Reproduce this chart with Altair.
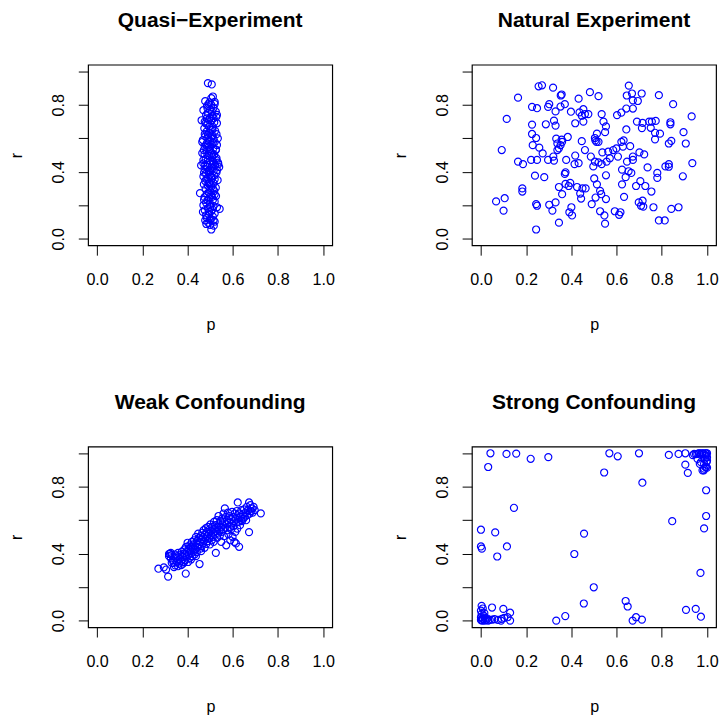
import altair as alt
import pandas as pd

# ---------------- data ----------------
quasi_points = [
    (0.490,0.930),(0.507,0.922),(0.512,0.850),(0.478,0.822),(0.497,0.815),(0.520,0.818),(0.505,0.800),
    (0.486,0.795),(0.515,0.782),(0.470,0.768),(0.500,0.770),(0.525,0.760),(0.490,0.752),(0.482,0.740),
    (0.510,0.735),(0.527,0.728),(0.498,0.722),(0.462,0.708),(0.476,0.700),(0.505,0.705),(0.518,0.695),
    (0.530,0.690),(0.488,0.682),(0.495,0.670),(0.512,0.668),(0.474,0.660),(0.502,0.652),(0.522,0.645),
    (0.484,0.640),(0.496,0.632),(0.528,0.625),(0.509,0.618),(0.478,0.612),(0.492,0.605),(0.515,0.598),
    (0.468,0.590),(0.500,0.585),(0.520,0.578),(0.486,0.572),(0.506,0.565),(0.530,0.560),(0.476,0.552),
    (0.494,0.548),(0.514,0.540),(0.526,0.533),(0.485,0.526),(0.502,0.520),(0.465,0.512),(0.475,0.505),
    (0.518,0.502),(0.496,0.495),(0.509,0.488),(0.528,0.482),(0.480,0.476),(0.490,0.470),(0.512,0.462),
    (0.535,0.455),(0.470,0.450),(0.500,0.445),(0.522,0.438),(0.486,0.430),(0.506,0.425),(0.540,0.428),
    (0.475,0.418),(0.494,0.410),(0.515,0.404),(0.528,0.396),(0.482,0.390),(0.500,0.382),(0.519,0.378),
    (0.470,0.372),(0.489,0.365),(0.508,0.360),(0.533,0.350),(0.478,0.345),(0.497,0.338),(0.515,0.332),
    (0.472,0.325),(0.490,0.318),(0.506,0.312),(0.525,0.305),(0.480,0.298),(0.498,0.290),(0.518,0.285),
    (0.455,0.272),(0.486,0.268),(0.505,0.262),(0.526,0.255),(0.475,0.248),(0.494,0.240),(0.512,0.232),
    (0.520,0.222),(0.482,0.215),(0.500,0.208),(0.470,0.200),(0.515,0.195),(0.530,0.188),(0.490,0.182),
    (0.542,0.178),(0.476,0.170),(0.505,0.165),(0.468,0.160),(0.520,0.150),(0.495,0.145),(0.512,0.132),
    (0.485,0.125),(0.503,0.118),(0.478,0.110),(0.520,0.102),(0.492,0.095),(0.483,0.088),(0.500,0.083),
    (0.516,0.078),(0.505,0.055),
    (0.488,0.780),(0.508,0.760),(0.495,0.710),(0.480,0.690),(0.510,0.650),(0.490,0.620),(0.504,0.600),
    (0.512,0.575),(0.482,0.560),(0.498,0.535),(0.508,0.510),(0.488,0.500),(0.500,0.465),(0.516,0.450),
    (0.478,0.440),(0.510,0.420),(0.494,0.400),(0.504,0.370),(0.484,0.355),(0.496,0.330),(0.512,0.300),
    (0.494,0.275),(0.508,0.250),(0.488,0.230),(0.500,0.190),(0.510,0.175),(0.495,0.160),(0.482,0.140),
    (0.525,0.530),(0.472,0.530),(0.528,0.470),(0.520,0.355),(0.530,0.410),(0.476,0.625),(0.470,0.470),
    (0.515,0.720),(0.520,0.805),(0.505,0.840),(0.494,0.805),(0.530,0.740),(0.485,0.720),(0.465,0.578),
    (0.473,0.395),(0.473,0.232),(0.520,0.265),(0.536,0.445),(0.534,0.600),(0.460,0.438),(0.498,0.112),
    (0.515,0.110),
]

natural_points = [
    (0.255,0.911),(0.270,0.917),(0.319,0.903),(0.164,0.843),(0.357,0.862),(0.353,0.856),(0.432,0.837),
    (0.482,0.876),(0.226,0.788),(0.248,0.780),(0.302,0.804),(0.297,0.788),(0.352,0.790),(0.371,0.804),
    (0.330,0.761),(0.398,0.759),(0.436,0.755),(0.453,0.774),(0.446,0.735),(0.460,0.745),(0.453,0.700),
    (0.417,0.690),(0.475,0.745),(0.114,0.716),(0.226,0.682),(0.287,0.684),(0.323,0.706),(0.330,0.676),
    (0.226,0.626),(0.244,0.602),(0.229,0.559),(0.258,0.544),(0.333,0.598),(0.357,0.592),(0.384,0.608),
    (0.338,0.569),(0.345,0.540),(0.352,0.559),(0.359,0.579),(0.338,0.530),(0.446,0.583),(0.504,0.602),
    (0.511,0.579),(0.092,0.530),(0.460,0.530),(0.273,0.510),(0.164,0.461),(0.186,0.446),(0.222,0.471),
    (0.248,0.471),(0.297,0.471),(0.320,0.491),(0.323,0.467),(0.377,0.471),(0.417,0.497),(0.414,0.446),
    (0.432,0.452),(0.486,0.491),(0.497,0.432),(0.504,0.461),(0.374,0.397),(0.371,0.387),(0.239,0.377),
    (0.280,0.368),(0.501,0.360),(0.183,0.301),(0.183,0.282),(0.345,0.309),(0.374,0.328),(0.388,0.315),
    (0.395,0.334),(0.425,0.309),(0.449,0.301),(0.463,0.301),(0.439,0.270),(0.443,0.240),(0.359,0.266),
    (0.067,0.223),(0.105,0.242),(0.100,0.168),(0.244,0.207),(0.248,0.197),(0.302,0.203),(0.330,0.217),
    (0.316,0.168),(0.400,0.188),(0.391,0.158),(0.403,0.139),(0.490,0.207),(0.507,0.246),(0.345,0.096),
    (0.244,0.055),
    (0.654,0.915),(0.645,0.856),(0.668,0.868),(0.711,0.868),(0.520,0.852),(0.672,0.827),(0.694,0.823),
    (0.787,0.858),(0.850,0.804),(0.932,0.731),(0.643,0.778),(0.672,0.778),(0.621,0.754),(0.602,0.739),
    (0.534,0.745),(0.542,0.700),(0.553,0.671),(0.549,0.637),(0.513,0.628),(0.506,0.588),(0.520,0.579),
    (0.643,0.653),(0.690,0.700),(0.715,0.692),(0.712,0.661),(0.744,0.700),(0.756,0.700),(0.773,0.704),
    (0.751,0.663),(0.838,0.696),(0.838,0.684),(0.896,0.637),(0.770,0.633),(0.792,0.628),(0.770,0.594),
    (0.842,0.585),(0.831,0.569),(0.906,0.569),(0.621,0.579),(0.631,0.588),(0.628,0.550),(0.660,0.553),
    (0.585,0.530),(0.599,0.540),(0.563,0.520),(0.537,0.516),(0.701,0.516),(0.722,0.504),(0.672,0.491),
    (0.672,0.471),(0.606,0.491),(0.570,0.481),(0.556,0.461),(0.520,0.456),(0.534,0.446),(0.646,0.461),
    (0.737,0.426),(0.816,0.432),(0.831,0.446),(0.831,0.430),(0.935,0.452),(0.624,0.413),(0.653,0.403),
    (0.665,0.393),(0.553,0.379),(0.640,0.368),(0.780,0.393),(0.780,0.364),(0.893,0.373),(0.513,0.325),
    (0.624,0.325),(0.686,0.315),(0.705,0.344),(0.727,0.315),(0.754,0.282),(0.527,0.286),(0.532,0.266),
    (0.553,0.237),(0.633,0.250),(0.698,0.217),(0.715,0.227),(0.708,0.197),(0.718,0.192),(0.763,0.188),
    (0.527,0.164),(0.592,0.164),(0.617,0.158),(0.611,0.143),(0.546,0.139),(0.549,0.090),(0.842,0.178),
    (0.874,0.188),(0.787,0.109),(0.813,0.109),
]

weak_points = [
    (0.271,0.310),(0.295,0.318),(0.314,0.263),(0.392,0.281),(0.305,0.305),(0.322,0.400),(0.318,0.385),
    (0.326,0.372),(0.330,0.392),(0.335,0.360),(0.340,0.320),(0.338,0.345),(0.345,0.395),(0.348,0.375),
    (0.352,0.352),(0.355,0.385),(0.358,0.405),(0.362,0.340),(0.365,0.368),(0.368,0.392),(0.372,0.355),
    (0.375,0.412),(0.378,0.380),(0.380,0.340),(0.383,0.400),(0.386,0.425),(0.388,0.362),(0.390,0.395),
    (0.393,0.440),(0.396,0.378),(0.398,0.410),(0.400,0.465),(0.402,0.350),(0.404,0.428),(0.406,0.395),
    (0.408,0.450),(0.410,0.375),(0.412,0.418),(0.415,0.440),(0.417,0.402),(0.419,0.470),(0.421,0.385),
    (0.423,0.432),(0.425,0.455),(0.427,0.412),(0.429,0.480),(0.431,0.395),(0.433,0.445),(0.435,0.425),
    (0.437,0.500),(0.439,0.462),(0.441,0.410),(0.443,0.478),(0.445,0.440),(0.447,0.520),(0.449,0.455),
    (0.451,0.495),(0.453,0.338),(0.455,0.470),(0.457,0.430),(0.459,0.505),(0.461,0.485),(0.463,0.445),
    (0.465,0.525),(0.467,0.462),(0.469,0.498),(0.471,0.540),(0.473,0.478),(0.475,0.435),(0.477,0.515),
    (0.479,0.490),(0.481,0.552),(0.483,0.458),(0.485,0.530),(0.487,0.505),(0.489,0.475),(0.491,0.560),
    (0.493,0.520),(0.495,0.490),(0.497,0.545),(0.499,0.455),(0.501,0.575),(0.503,0.510),(0.505,0.535),
    (0.507,0.480),(0.509,0.560),(0.511,0.500),(0.513,0.528),(0.515,0.470),(0.517,0.590),(0.519,0.548),
    (0.521,0.515),(0.523,0.570),(0.525,0.405),(0.527,0.535),(0.529,0.600),(0.531,0.495),(0.533,0.555),
    (0.535,0.520),(0.537,0.625),(0.539,0.575),(0.541,0.540),(0.543,0.508),(0.545,0.595),(0.547,0.560),
    (0.549,0.470),(0.551,0.530),(0.553,0.610),(0.555,0.575),(0.557,0.545),(0.559,0.640),(0.561,0.505),
    (0.563,0.590),(0.565,0.671),(0.567,0.555),(0.569,0.620),(0.571,0.450),(0.573,0.575),(0.575,0.600),
    (0.577,0.540),(0.579,0.645),(0.581,0.515),(0.583,0.585),(0.585,0.625),(0.587,0.560),(0.589,0.480),
    (0.591,0.605),(0.593,0.545),(0.595,0.580),(0.597,0.650),(0.599,0.500),(0.601,0.620),(0.603,0.565),
    (0.605,0.595),(0.607,0.470),(0.609,0.640),(0.611,0.530),(0.613,0.610),(0.614,0.461),(0.616,0.585),
    (0.618,0.655),(0.620,0.550),(0.622,0.706),(0.624,0.615),(0.626,0.590),(0.628,0.441),(0.630,0.640),
    (0.632,0.570),(0.634,0.620),(0.636,0.600),(0.638,0.660),(0.641,0.595),(0.644,0.635),(0.647,0.610),
    (0.650,0.665),(0.653,0.620),(0.656,0.645),(0.659,0.600),(0.662,0.680),(0.665,0.630),(0.668,0.660),
    (0.672,0.706),(0.672,0.529),(0.675,0.640),(0.678,0.690),(0.681,0.655),(0.684,0.670),(0.688,0.645),
    (0.692,0.680),(0.697,0.660),(0.724,0.641),(0.345,0.330),(0.330,0.345),(0.358,0.325),(0.372,0.332),
    (0.385,0.350),(0.415,0.365),(0.318,0.398),(0.326,0.405),(0.437,0.385),(0.460,0.415),
]

strong_points = [
    (0.042,1.000),(0.113,0.996),(0.156,0.998),(0.220,0.967),(0.298,0.977),(0.568,1.000),(0.605,0.982),
    (0.699,1.000),(0.831,0.990),(0.874,0.996),(0.904,1.000),(0.943,0.996),(0.032,0.918),(0.545,0.885),
    (0.904,0.932),(0.915,0.883),(0.714,0.824),(0.996,0.779),(0.146,0.674),(0.846,0.594),(0.996,0.625),
    (0.987,0.551),(0.000,0.543),(0.063,0.527),(0.456,0.520),(0.000,0.443),(0.004,0.430),(0.115,0.443),
    (0.072,0.383),(0.413,0.398),(0.971,0.285),(0.499,0.199),(0.455,0.102),(0.640,0.117),(0.649,0.084),
    (0.907,0.064),(0.950,0.070),(0.973,0.023),(0.373,0.027),(0.333,0.000),(0.671,0.000),(0.686,0.020),
    (0.712,0.006),
    (0.003,0.088),(0.000,0.059),(0.003,0.040),(0.000,0.020),(0.000,0.004),(0.006,0.000),(0.010,0.010),
    (0.017,0.000),(0.024,0.004),(0.032,0.000),(0.039,0.004),(0.049,0.078),(0.050,0.006),(0.089,0.000),
    (0.099,0.070),(0.103,0.016),(0.118,0.020),(0.129,0.047),(0.129,0.000),(0.092,0.010),(0.008,0.072),
    (0.012,0.030),(0.020,0.015),(0.005,0.012),(0.015,0.045),(0.028,0.012),(0.002,0.002),(0.060,0.008),
    (0.075,0.004),
    (0.937,0.989),(0.951,0.995),(0.966,0.999),(0.980,1.000),(0.995,1.000),(1.000,1.000),(0.958,0.966),
    (0.973,0.947),(0.987,0.937),(0.995,0.917),(0.980,0.898),(0.987,0.908),(1.000,0.976),(1.000,0.956),
    (0.957,0.996),(0.964,1.000),(0.971,0.992),(0.978,1.000),(0.986,0.996),(0.993,1.000),(0.996,0.986),
    (0.990,0.967),(0.968,0.937),(0.998,0.947),(0.986,0.898),(0.993,0.918),(1.000,0.914),
]

panel_titles = ["Quasi\u2212Experiment", "Natural Experiment", "Weak Confounding", "Strong Confounding"]
tick_values = [0.0, 0.2, 0.4, 0.6, 0.8, 1.0]
axis_domain = [-0.04, 1.04]

FONT = "Liberation Sans"


def make_df(points):
    return pd.DataFrame(points, columns=["p", "r"])


def panel(points, title):
    return (
        alt.Chart(make_df(points))
        .mark_point(shape="circle", filled=False, color="#0000ff", size=52, strokeWidth=1.2, opacity=1)
        .encode(
            x=alt.X(
                "p:Q",
                scale=alt.Scale(domain=axis_domain, nice=False, zero=False),
                axis=alt.Axis(
                    values=tick_values, format=".1f", title="p",
                    labelPadding=17, titleX=125.25, titleY=86,
                    titleBaseline="alphabetic", titleAlign="center",
                ),
            ),
            y=alt.Y(
                "r:Q",
                scale=alt.Scale(domain=axis_domain, nice=False, zero=False),
                axis=alt.Axis(
                    values=tick_values, title="r",
                    labelExpr="(datum.value == 0 || datum.value == 0.4 || datum.value == 0.8) ? format(datum.value, '.1f') : ''",
                    labelAngle=270, labelAlign="center", labelBaseline="alphabetic", labelPadding=15,
                    titleAngle=270, titleX=-68, titleY=92.5, titleBaseline="alphabetic", titleAlign="center",
                ),
            ),
        )
        .properties(width=250, height=185, title=alt.TitleParams(title))
    )


panels = [
    panel(quasi_points, panel_titles[0]),
    panel(natural_points, panel_titles[1]),
    panel(weak_points, panel_titles[2]),
    panel(strong_points, panel_titles[3]),
]

chart = (
    alt.concat(*panels, columns=2, spacing={"row": 206, "column": 143}, bounds="flush")
    .properties(padding={"left": 0, "top": -7.5, "right": 0, "bottom": 0}, background="white")
    .configure_view(stroke="black", strokeWidth=1.2)
    .configure_axis(
        domain=False, grid=False, tickColor="black", tickSize=10, tickWidth=1,
        labelColor="black", labelFont=FONT, labelFontSize=16.5, labelFlush=False, labelOverlap=False,
        titleColor="black", titleFont=FONT, titleFontSize=16.5, titleFontWeight="normal",
    )
    .configure_title(font=FONT, fontSize=21.5, fontWeight="bold", color="black",
                     anchor="middle", frame="group", baseline="alphabetic", offset=34)
)

chart.save("out.html", embed_options={"renderer": "svg", "actions": False})
